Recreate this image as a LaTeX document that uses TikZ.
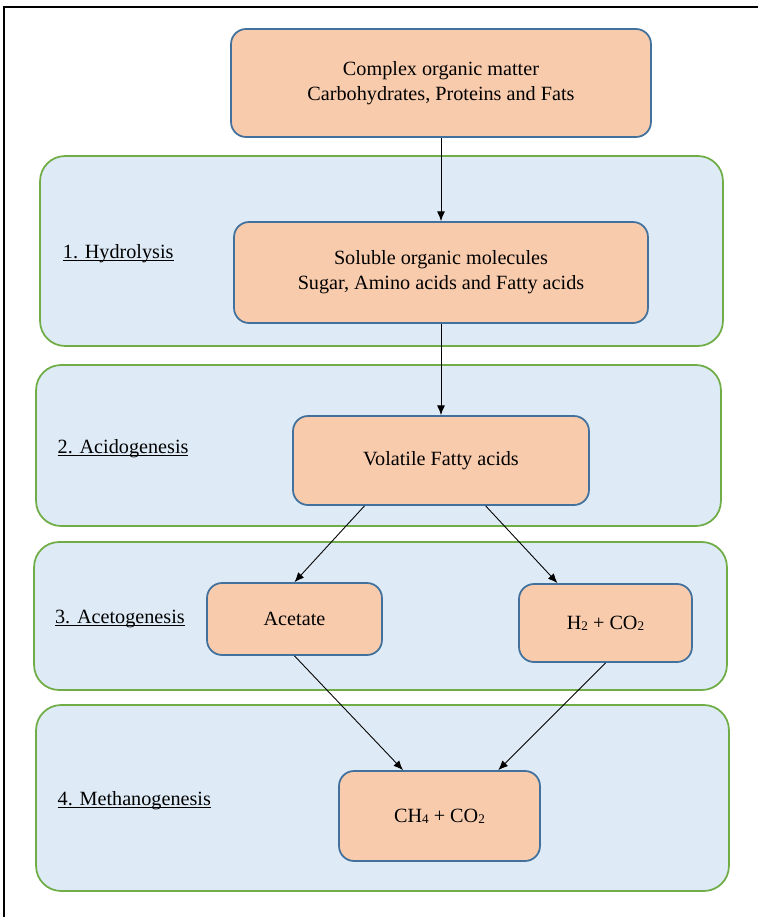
\documentclass[tikz,border=0pt]{standalone}
\usepackage{fontspec}
\setmainfont{Liberation Serif}
\usepackage{tikz}
\usetikzlibrary{positioning}
\usetikzlibrary{calc}
\usetikzlibrary{arrows.meta}
\definecolor{boxfill}{HTML}{F8CBAD}
\definecolor{boxline}{HTML}{41719C}
\definecolor{stagefill}{HTML}{DEEBF7}
\definecolor{stageline}{HTML}{70AD47}
\newcommand\chemsub[1]{\raisebox{-0.6pt}{\fontsize{7.5}{8}\selectfont#1}}
\newcommand\stagename[1]{\underline{\smash{#1}}}

\begin{document}
\begin{tikzpicture}[x=0.02cm,y=-0.02cm,line width=0.5pt,>={Latex[length=5.5pt,width=4.5pt]},
  font=\fontsize{11.5}{14.2}\selectfont,
  stage/.style={draw=stageline,fill=stagefill,line width=1pt,rounded corners=0.5cm},
  box/.style={draw=boxline,fill=boxfill,line width=1pt,rounded corners=0.3cm,align=center},
  phase/.style={anchor=base west,inner sep=0pt}]
  \useasboundingbox (0,0) rectangle (758,917);
  \draw[line width=1.2pt] (4,917) -- (4,7) -- (758,7);
  \node[stage,minimum width=13.66cm,minimum height=3.8cm](hyd) at (381.5,251) {};
  \node[stage,minimum width=13.7cm,minimum height=3.22cm](acido) at (378.5,445.5) {};
  \node[stage,minimum width=13.86cm,minimum height=2.96cm](aceto) at (380.5,616) {};
  \node[stage,minimum width=13.86cm,minimum height=3.72cm](metha) at (382.5,798) {};
  \node[phase](hydlabel) at (62.5,258.3) {\stagename{1. Hydrolysis}};
  \node[phase](acidolabel) at (57.3,453.3) {\stagename{2. Acidogenesis}};
  \node[phase](acetolabel) at (54.7,623.3) {\stagename{3. Acetogenesis}};
  \node[phase](methalabel) at (57.3,805) {\stagename{4. Methanogenesis}};
  \node[box,minimum width=8.4cm,minimum height=2.16cm](complex) at (441,83) {Complex organic matter\\Carbohydrates, Proteins and Fats};
  \node[box,minimum width=8.28cm,minimum height=2.02cm](soluble) at (441,272.5) {Soluble organic molecules\\Sugar, Amino acids and Fatty acids};
  \node[box,minimum width=5.92cm,minimum height=1.78cm](vfa) at (441,460.5) {Volatile Fatty acids};
  \node[box,minimum width=3.5cm,minimum height=1.44cm](acetate) at (294.5,619) {Acetate};
  \node[box,minimum width=3.46cm,minimum height=1.56cm](hydrogen) at (605.5,623) {H\chemsub{2} + CO\chemsub{2}};
  \node[box,minimum width=4.02cm,minimum height=1.8cm](methane) at (439.5,816) {CH\chemsub{4} + CO\chemsub{2}};
  \draw[->] (complex)--(soluble);
  \draw[->] (soluble)--(vfa);
  \draw[->] ($(vfa.south west)!0.243!(vfa.south east)$)--(acetate.north);
  \draw[->] ($(vfa.south west)!0.65!(vfa.south east)$)--($(hydrogen.north west)!0.225!(hydrogen.north east)$);
  \draw[->] (acetate.south)--($(methane.north west)!0.32!(methane.north east)$);
  \draw[->] (hydrogen.south)--($(methane.north west)!0.79!(methane.north east)$);
\end{tikzpicture}
\end{document}
